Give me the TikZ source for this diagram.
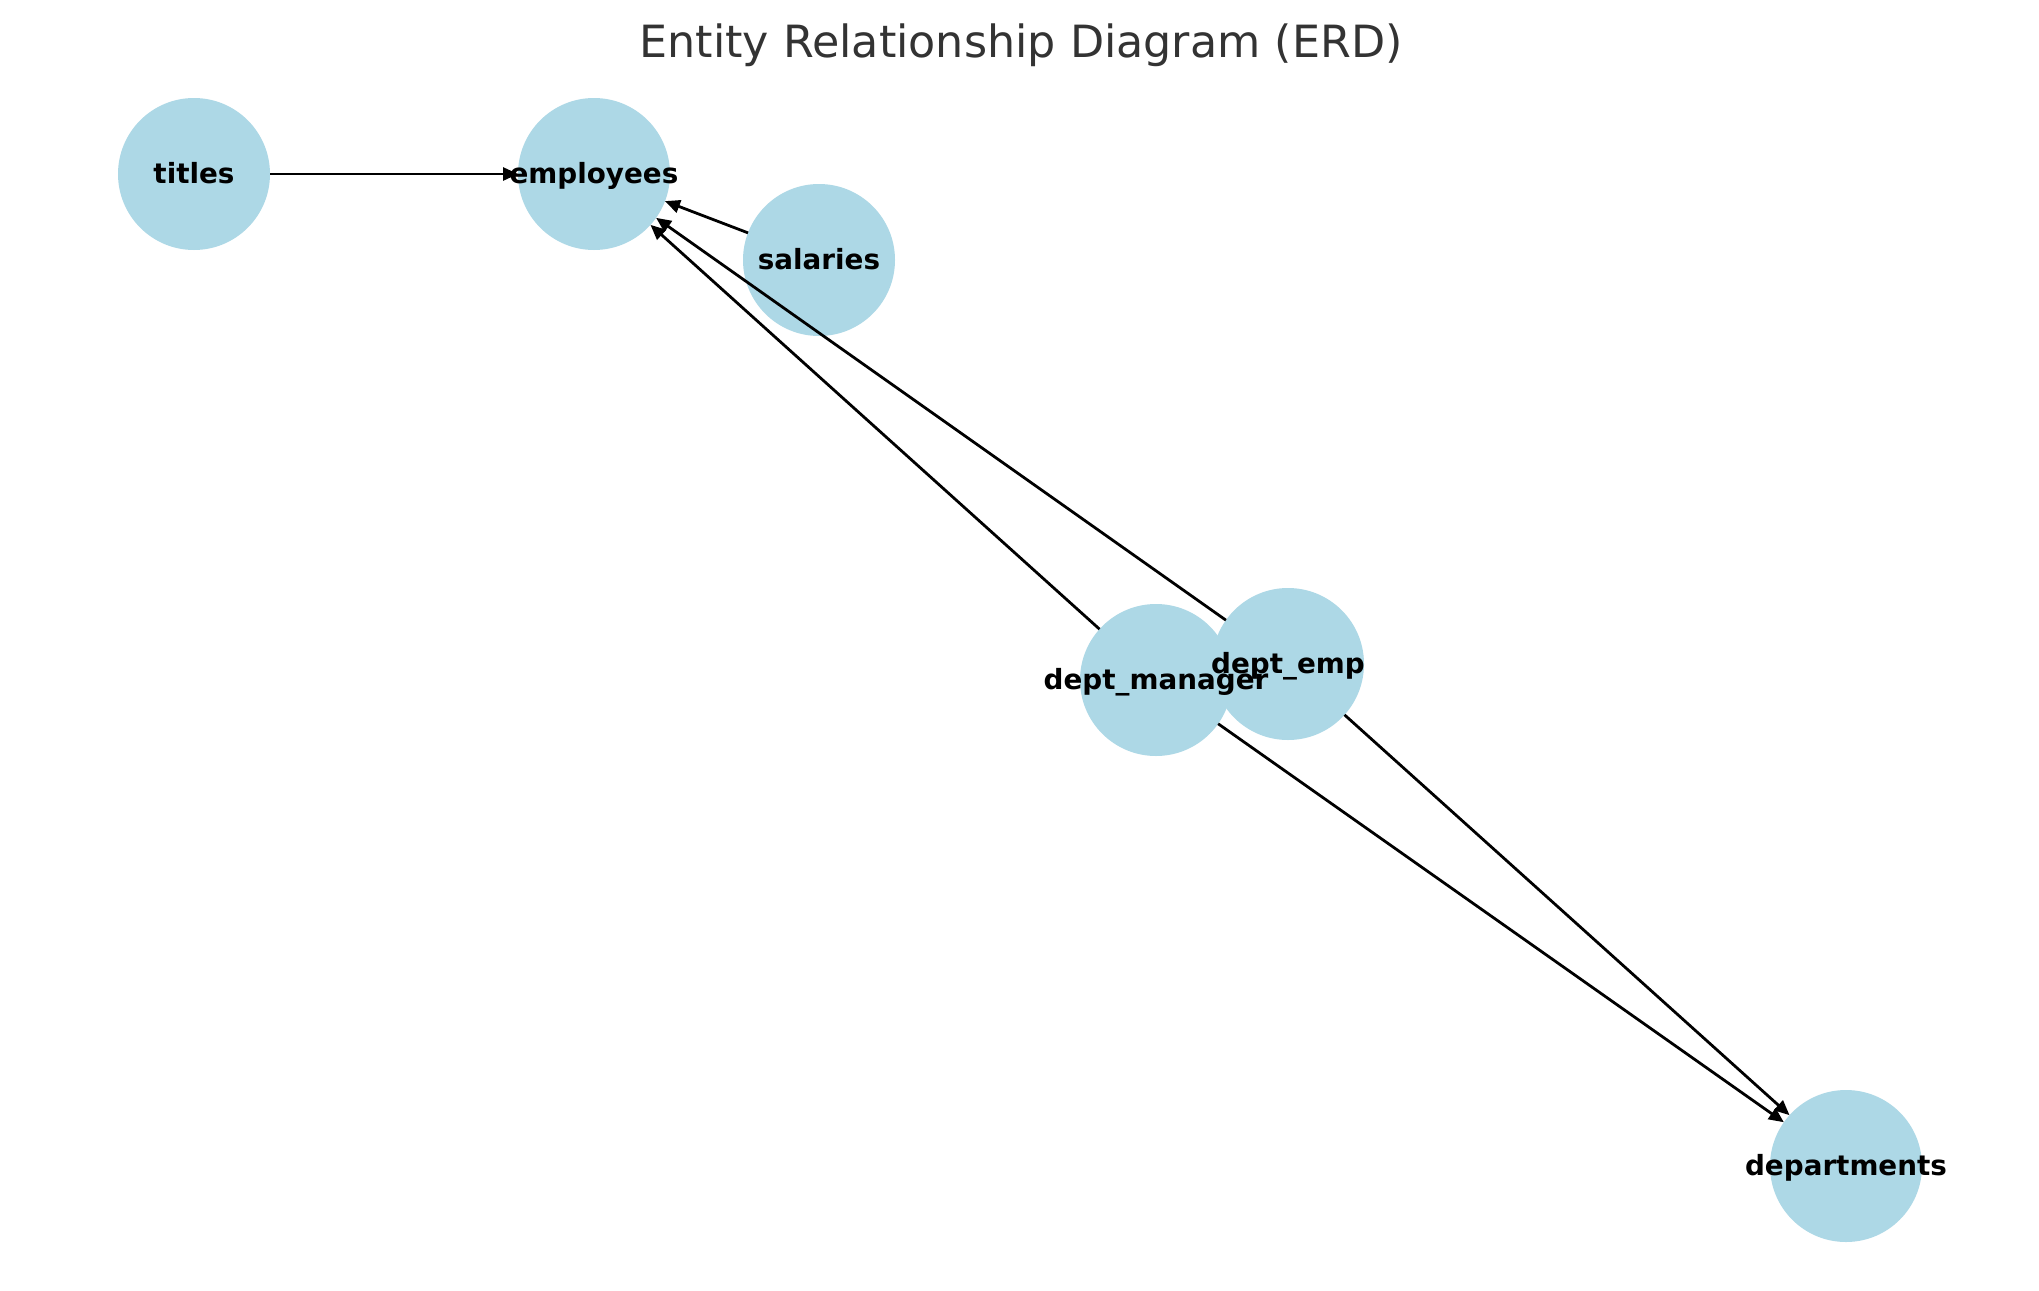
\documentclass[tikz,border=0pt]{standalone}
\usepackage{fontspec}
\setmainfont{DejaVu Sans}
\usetikzlibrary{arrows.meta}
\definecolor{nodeblue}{HTML}{ADD8E6}
\definecolor{titlegray}{HTML}{333333}
\tikzset{
  entity/.style={circle, fill=nodeblue, draw=none, minimum size=152pt, inner sep=0pt, outer sep=0pt},
  elabel/.style={font=\fontsize{27.8}{30}\selectfont\bfseries, text=black, inner sep=0pt, anchor=base},
  rel/.style={line width=2.78pt, black, -{Triangle[length=15pt,width=13pt]}},
}
\begin{document}
\begin{tikzpicture}[x=1pt,y=-1pt]
\useasboundingbox (0,0) rectangle (2039,1290);
\fill[white] (0,0) rectangle (2039,1290);
% circles
\node[entity] (titles) at (194,174) {};
\node[entity] (employees) at (594,174) {};
\node[entity] (salaries) at (819,260) {};
\node[entity] (deptmanager) at (1156,680) {};
\node[entity] (deptemp) at (1288,664) {};
\node[entity] (departments) at (1846,1166) {};
% edges
\draw[rel] (titles) -- (employees);
\draw[rel] (salaries) -- (employees);
\draw[rel] (deptemp) -- (employees);
\draw[rel] (deptmanager) -- (employees);
\draw[rel] (deptmanager) -- (departments);
\draw[rel] (deptemp) -- (departments);
% labels
\node[elabel] (ltitles) at ([yshift=-9.5pt]titles.center) {titles};
\node[elabel] (lemployees) at ([yshift=-9.5pt]employees.center) {employees};
\node[elabel] (lsalaries) at ([yshift=-9.5pt]salaries.center) {salaries};
\node[elabel] (ldeptmanager) at ([yshift=-9.5pt]deptmanager.center) {dept\_manager};
\node[elabel] (ldeptemp) at ([yshift=-9.5pt]deptemp.center) {dept\_emp};
\node[elabel] (ldepartments) at ([yshift=-9.5pt]departments.center) {departments};
% title
\node[anchor=base, font=\fontsize{44.4}{50}\selectfont, text=titlegray, inner sep=0pt] (title) at (1021,57) {Entity Relationship Diagram (ERD)};
\end{tikzpicture}
\end{document}
